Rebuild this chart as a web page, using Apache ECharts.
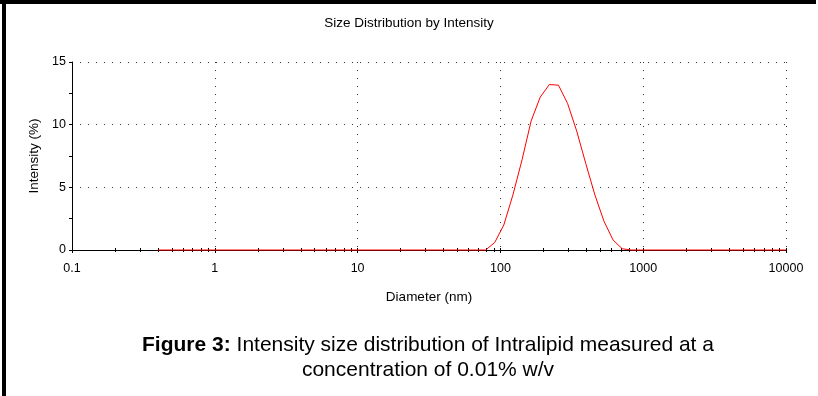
<!DOCTYPE html>
<html><head><meta charset="utf-8">
<script src="https://cdn.jsdelivr.net/npm/echarts@6/dist/echarts.min.js"></script>
<style>html,body{margin:0;padding:0;background:#fff}#c{width:818px;height:396px}</style>
</head><body><div id="c"></div>
<script>
const chartTitle = 'Size Distribution by Intensity';
const xAxisName = 'Diameter (nm)';
const yAxisName = 'Intensity (%)';
const captionBold = 'Figure 3:';
const captionLine1 = ' Intensity size distribution of Intralipid measured at a';
const captionLine2 = 'concentration of 0.01% w/v';

// Size bins (nm)
const sizes = [0.4, 0.4632, 0.5365, 0.6213, 0.7195, 0.8332, 0.9649, 1.117, 1.294, 1.499,
  1.736, 2.010, 2.328, 2.696, 3.122, 3.615, 4.187, 4.849, 5.615, 6.503,
  7.531, 8.721, 10.10, 11.70, 13.54, 15.69, 18.17, 21.04, 24.36, 28.21,
  32.67, 37.84, 43.82, 50.75, 58.77, 68.06, 78.82, 91.28, 105.7, 122.4,
  141.8, 164.2, 190.1, 220.2, 255.0, 295.3, 342.0, 396.1, 458.7, 531.2,
  615.1, 712.4, 825.0, 955.4, 1106, 1281, 1484, 1718, 1990, 2305,
  2669, 3091, 3580, 4145, 4801, 5560, 6439, 7456, 8635, 10000];
// Intensity (%) per bin
const intensity = [0, 0, 0, 0, 0, 0, 0, 0, 0, 0,
  0, 0, 0, 0, 0, 0, 0, 0, 0, 0,
  0, 0, 0, 0, 0, 0, 0, 0, 0, 0,
  0, 0, 0, 0, 0, 0, 0, 0.6, 2.0, 4.4,
  7.2, 10.3, 12.2, 13.2, 13.15, 11.7, 9.5, 6.9, 4.4, 2.3,
  0.8, 0.1, 0, 0, 0, 0, 0, 0, 0, 0,
  0, 0, 0, 0, 0, 0, 0, 0, 0, 0];

const xDecades = [0.1, 1, 10, 100, 1000, 10000];
const xTickValues = [0.1, 0.2, 0.3, 0.4, 0.5, 0.6, 0.7, 0.8, 0.9,
  1, 2, 3, 4, 5, 6, 7, 8, 9,
  10, 20, 30, 40, 50, 60, 70, 80, 90,
  100, 200, 300, 400, 500, 600, 700, 800, 900,
  1000, 2000, 3000, 4000, 5000, 6000, 7000, 8000, 9000, 10000];

const FONT = '"Liberation Sans", Arial, sans-serif';
const chart = echarts.init(document.getElementById('c'));
const seriesData = sizes.map((s, i) => [s, intensity[i]]);
const gridDef = {left: 72, right: 32, top: 62, bottom: 146};
const gridDots = {color: '#333', type: [1, 7], width: 1};

chart.setOption({
  animation: false,
  backgroundColor: '#fff',
  title: [
    {text: chartTitle, left: 'center', top: 11,
     textStyle: {fontFamily: FONT, fontSize: 13.5, fontWeight: 'normal', color: '#000'}}
  ],
  grid: gridDef,
  xAxis: [
    {type: 'log', logBase: 10, min: 0.1, max: 10000,
     name: xAxisName, nameLocation: 'middle', nameGap: 40,
     nameTextStyle: {fontFamily: FONT, fontSize: 13.5, color: '#000'},
     axisLine: {lineStyle: {color: '#000', width: 1}},
     axisTick: {show: true, inside: false, length: 3, customValues: xDecades, lineStyle: {color: '#000'}},
     axisLabel: {fontFamily: FONT, fontSize: 12.5, color: '#000', margin: 12, customValues: xDecades,
       formatter: v => String(v)},
     splitLine: {show: true, lineStyle: gridDots},
     minorTick: {show: false}, minorSplitLine: {show: false}},
    {type: 'log', logBase: 10, min: 0.1, max: 10000, position: 'bottom',
     axisLine: {show: false},
     axisTick: {show: true, inside: false, length: 2, customValues: xTickValues, lineStyle: {color: '#000'}},
     axisLabel: {show: false}, splitLine: {show: false}},
    {type: 'log', logBase: 10, min: 0.1, max: 10000, position: 'bottom',
     axisLine: {show: false},
     axisTick: {show: true, inside: true, length: 2, customValues: xTickValues, lineStyle: {color: '#000'}},
     axisLabel: {show: false}, splitLine: {show: false}}
  ],
  yAxis: [
    {type: 'value', min: 0, max: 15, interval: 5,
     name: yAxisName, nameLocation: 'middle', nameGap: 30, nameRotate: 90,
     nameTextStyle: {fontFamily: FONT, fontSize: 13.5, color: '#000'},
     axisLine: {show: true, lineStyle: {color: '#000', width: 1}},
     axisTick: {show: true, inside: false, length: 3, lineStyle: {color: '#000'}},
     minorTick: {show: true, splitNumber: 2, length: 3, lineStyle: {color: '#000'}},
     axisLabel: {fontFamily: FONT, fontSize: 12.5, color: '#000', margin: 6},
     splitLine: {show: true, lineStyle: gridDots}}
  ],
  graphic: [
    {type: 'rect', left: 0, top: 0, shape: {width: 816, height: 4}, style: {fill: '#000'}, z: 100},
    {type: 'rect', left: 2, top: 0, shape: {width: 4, height: 396}, style: {fill: '#000'}, z: 100},
    {type: 'text', x: 428, y: 345, z: 100,
     style: {text: '{b|' + captionBold + '}' + captionLine1,
       fontFamily: FONT, fontSize: 21, fill: '#000', align: 'center', verticalAlign: 'middle',
       rich: {b: {fontFamily: FONT, fontSize: 21, fontWeight: 'bold', fill: '#000'}}}},
    {type: 'text', x: 428, y: 370, z: 100,
     style: {text: captionLine2, fontFamily: FONT, fontSize: 21, fill: '#000',
       align: 'center', verticalAlign: 'middle'}}
  ],
  series: [{
    type: 'line', xAxisIndex: 0, yAxisIndex: 0, data: seriesData,
    showSymbol: false, symbol: 'none', clip: false,
    lineStyle: {color: '#ff0000', width: 1}, itemStyle: {color: '#ff0000'}, z: 5
  }]
});
</script></body></html>
